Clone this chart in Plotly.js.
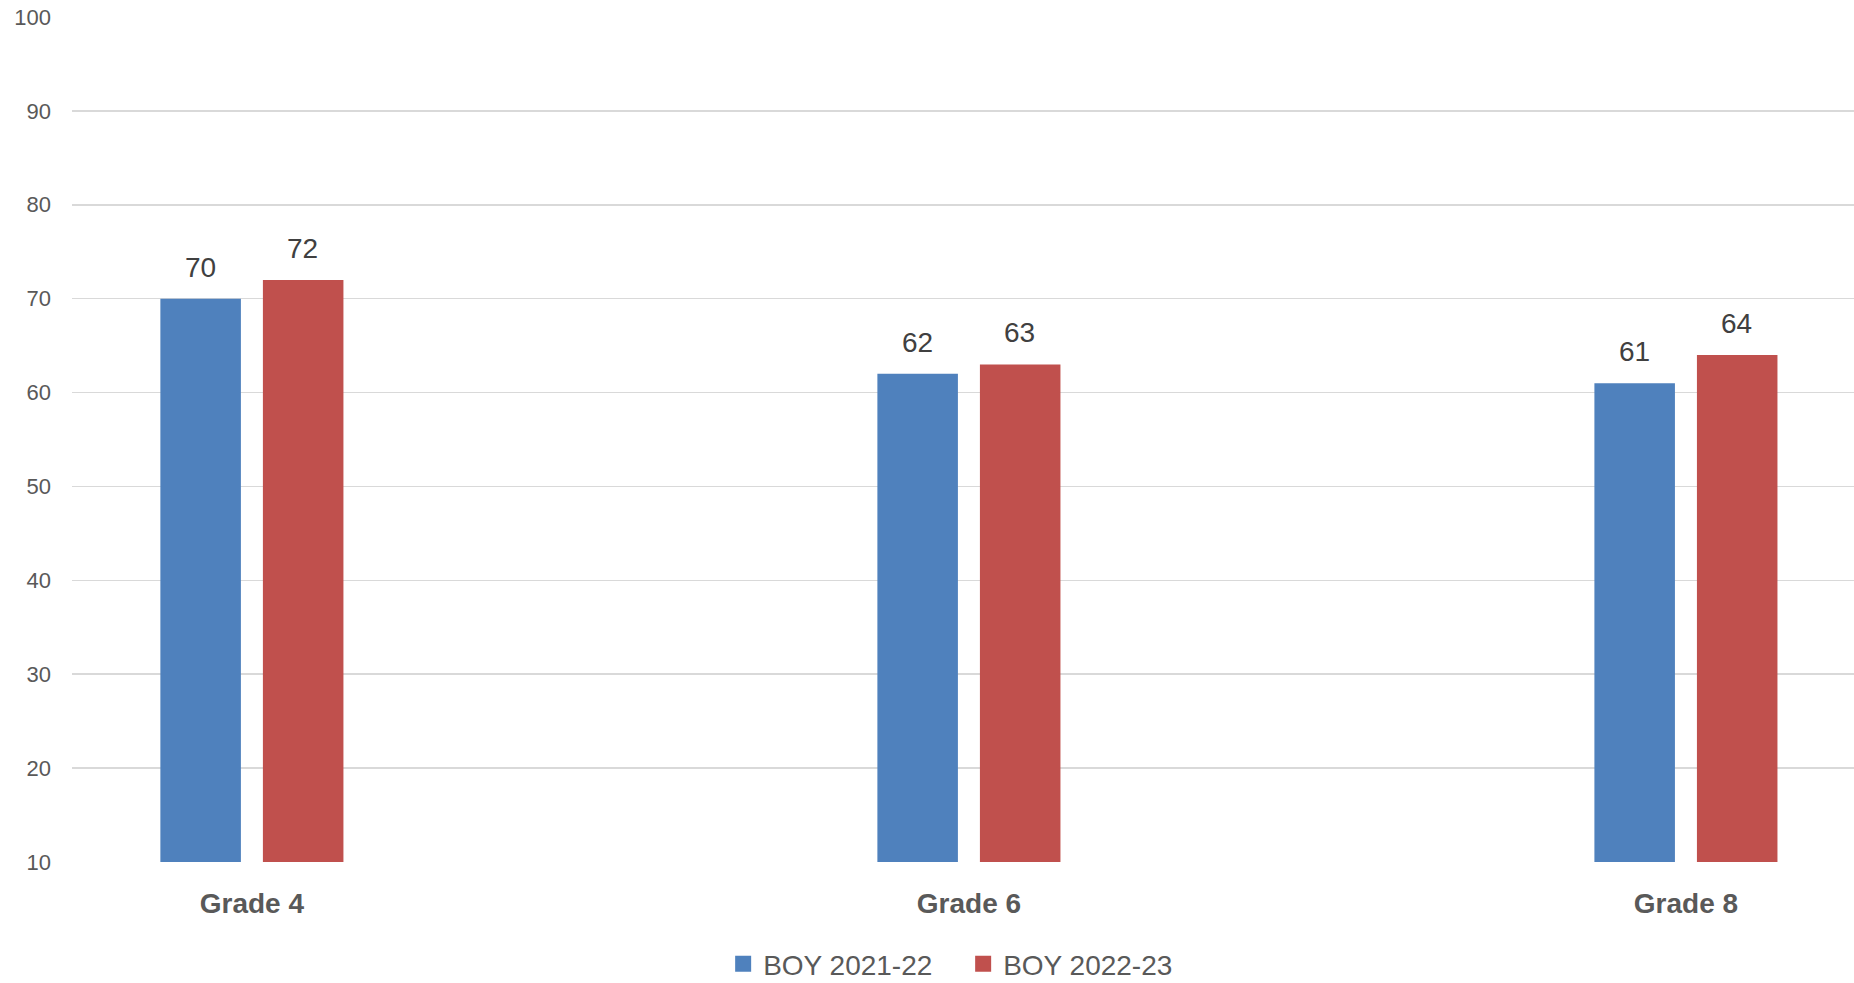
<!DOCTYPE html>
<html>
<head>
<meta charset="utf-8">
<script src="https://cdn.plot.ly/plotly-3.0.1.min.js"></script>
<style>html,body{margin:0;padding:0;background:#fff;}#chart{width:1854px;height:983px;}</style>
</head>
<body>
<div id="chart"></div>
<script>
const categories = ["Grade 4", "Grade 6", "Grade 8"];
const seriesNames = ["BOY 2021-22", "BOY 2022-23"];
const boy2122 = [70, 62, 61];
const boy2223 = [72, 63, 64];
const yTicks = [10, 20, 30, 40, 50, 60, 70, 80, 90, 100];
const colors = ["#4F81BD", "#C0504D"];

const FONT = "'Liberation Sans', Arial, sans-serif";

const traces = [boy2122, boy2223].map((vals, i) => ({
  type: "bar",
  name: seriesNames[i],
  x: categories,
  y: vals,
  marker: { color: colors[i] },
  hoverinfo: "none",
  showlegend: false,
  legendgroup: seriesNames[i]
}));

// legend entries with larger square swatches
seriesNames.forEach((name, i) => {
  traces.push({
    type: "scatter", mode: "markers",
    name: name, legendgroup: name,
    x: [null], y: [null],
    marker: { symbol: "square", size: 17, color: colors[i] },
    hoverinfo: "none", showlegend: true
  });
});

const annotations = [];
[boy2122, boy2223].forEach((vals, i) => {
  vals.forEach((v, j) => {
    annotations.push({
      x: categories[j], y: v, xref: "x", yref: "y",
      text: String(v), showarrow: false,
      xanchor: "center", yanchor: "bottom",
      xshift: i === 0 ? -51 : 51, yshift: 14,
      font: { family: FONT, size: 28, color: "#404040" }
    });
  });
});

const layout = {
  width: 1854, height: 983,
  paper_bgcolor: "#fff", plot_bgcolor: "#fff",
  margin: { l: 72, r: 0, t: 17, b: 121, autoexpand: false },
  barmode: "group",
  bargap: 0.714,
  bargroupgap: 0.2146,
  showlegend: true,
  legend: {
    orientation: "h", x: 0.5195, xref: "container", xanchor: "center",
    y: 0.0193, yref: "container", yanchor: "middle",
    font: { family: FONT, size: 28, color: "#595959" },
    itemwidth: 30, traceorder: "normal",
    entrywidth: 195
  },
  xaxis: {
    type: "category",
    range: [-0.2509, 2.2344],
    showgrid: false, zeroline: false, showline: false,
    ticks: "", ticklabelstandoff: 22,
    tickfont: { family: FONT, size: 28, color: "#595959", weight: "bold" },
    fixedrange: true
  },
  yaxis: {
    range: [10, 100],
    tickvals: yTicks,
    ticktext: yTicks.map(String),
    showgrid: true, gridcolor: "#D9D9D9", gridwidth: 1.5,
    zeroline: false, showline: false, ticks: "",
    ticklabelstandoff: 20,
    tickfont: { family: FONT, size: 22, color: "#595959" },
    fixedrange: true
  },
  annotations: annotations
};

Plotly.newPlot("chart", traces, layout, { displayModeBar: false, staticPlot: true });
</script>
</body>
</html>
